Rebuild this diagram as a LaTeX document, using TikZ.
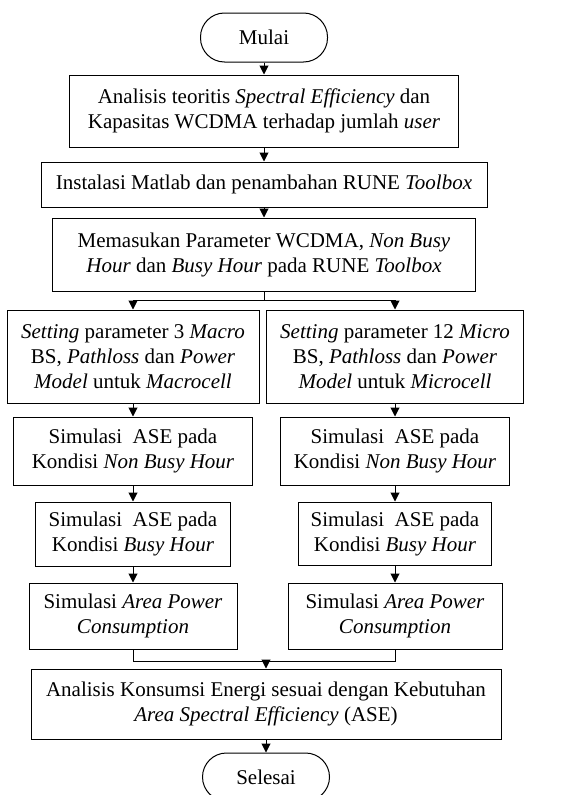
\documentclass[tikz,border=0pt]{standalone}
\usepackage{fontspec}
\setmainfont{Liberation Serif}
\usetikzlibrary{arrows.meta,calc,positioning}

\begin{document}
\begin{tikzpicture}[>={Triangle[length=9pt,width=9pt]},x=1pt,y=-1pt,line width=1pt]
    \tikzstyle{proses}=[rectangle,draw,align=center,inner sep=2pt,font=\fontsize{21}{25}\selectfont]
    \tikzstyle{ujung}=[proses,rounded corners=24pt]
    \useasboundingbox (0,0) rectangle (560,795);
    % alur utama
    \node[ujung,minimum width=127pt,minimum height=49pt] (mulai) at (264,37.5) {Mulai};
    \node[proses,minimum width=389pt,minimum height=72pt] (analisis) at (264,111) {Analisis teoritis \textit{Spectral Efficiency} dan\\Kapasitas WCDMA terhadap jumlah \textit{user}};
    \node[proses,minimum width=446pt,minimum height=45pt] (instalasi) at (264,184.5) {Instalasi Matlab dan penambahan RUNE \textit{Toolbox}};
    \node[proses,minimum width=423pt,minimum height=73pt] (masuk) at (264,254.5) {Memasukan Parameter WCDMA, \textit{Non Busy}\\\textit{Hour} dan \textit{Busy Hour} pada RUNE \textit{Toolbox}};
    % kolom macro
    \node[proses,minimum width=252pt,minimum height=93pt] (setL) at (133,356.5) {\textit{Setting} parameter 3 \textit{Macro}\\BS, \textit{Pathloss} dan \textit{Power}\\\textit{Model} untuk \textit{Macrocell}};
    \node[proses,minimum width=239pt,minimum height=68pt] (nbL) at (133,451) {Simulasi\ \ ASE pada\\Kondisi \textit{Non Busy Hour}};
    \node[proses,minimum width=195pt,minimum height=64pt] (bL) at (133,534) {Simulasi\ \ ASE pada\\Kondisi \textit{Busy Hour}};
    \node[proses,minimum width=208pt,minimum height=66pt] (apcL) at (133,616) {Simulasi \textit{Area Power}\\\textit{Consumption}};
    % kolom micro
    \node[proses,minimum width=257pt,minimum height=93pt] (setR) at (395,356.5) {\textit{Setting} parameter 12 \textit{Micro}\\BS, \textit{Pathloss} dan \textit{Power}\\\textit{Model} untuk \textit{Microcell}};
    \node[proses,minimum width=229pt,minimum height=68pt] (nbR) at (395,451) {Simulasi\ \ ASE pada\\Kondisi \textit{Non Busy Hour}};
    \node[proses,minimum width=193pt,minimum height=63pt] (bR) at (395,533.5) {Simulasi\ \ ASE pada\\Kondisi \textit{Busy Hour}};
    \node[proses,minimum width=214pt,minimum height=66pt] (apcR) at (395,616) {Simulasi \textit{Area Power}\\\textit{Consumption}};
    % penutup
    \node[proses,minimum width=470pt,minimum height=70pt] (akhir) at (266,704) {Analisis Konsumsi Energi sesuai dengan Kebutuhan\\\textit{Area Spectral Efficiency} (ASE)};
    \node[ujung,minimum width=127pt,minimum height=48pt] (selesai) at (266,777) {Selesai};
    \coordinate (cabang) at (264,300);
    \coordinate (gabung) at (266,661);
    % panah
    \draw[->] (mulai) -- (analisis);
    \draw[->] (analisis) -- (instalasi);
    \draw[->] (instalasi) -- (masuk);
    \draw (masuk) -- (cabang);
    \draw[->] (cabang) -| (setL);
    \draw[->] (cabang) -| (setR);
    \draw[->] (setL) -- (nbL);
    \draw[->] (nbL) -- (bL);
    \draw[->] (bL) -- (apcL);
    \draw[->] (setR) -- (nbR);
    \draw[->] (nbR) -- (bR);
    \draw[->] (bR) -- (apcR);
    \draw (apcL) |- (gabung);
    \draw (apcR) |- (gabung);
    \draw[->] (gabung) -- (akhir);
    \draw[->] (akhir) -- (selesai);
\end{tikzpicture}
\end{document}
